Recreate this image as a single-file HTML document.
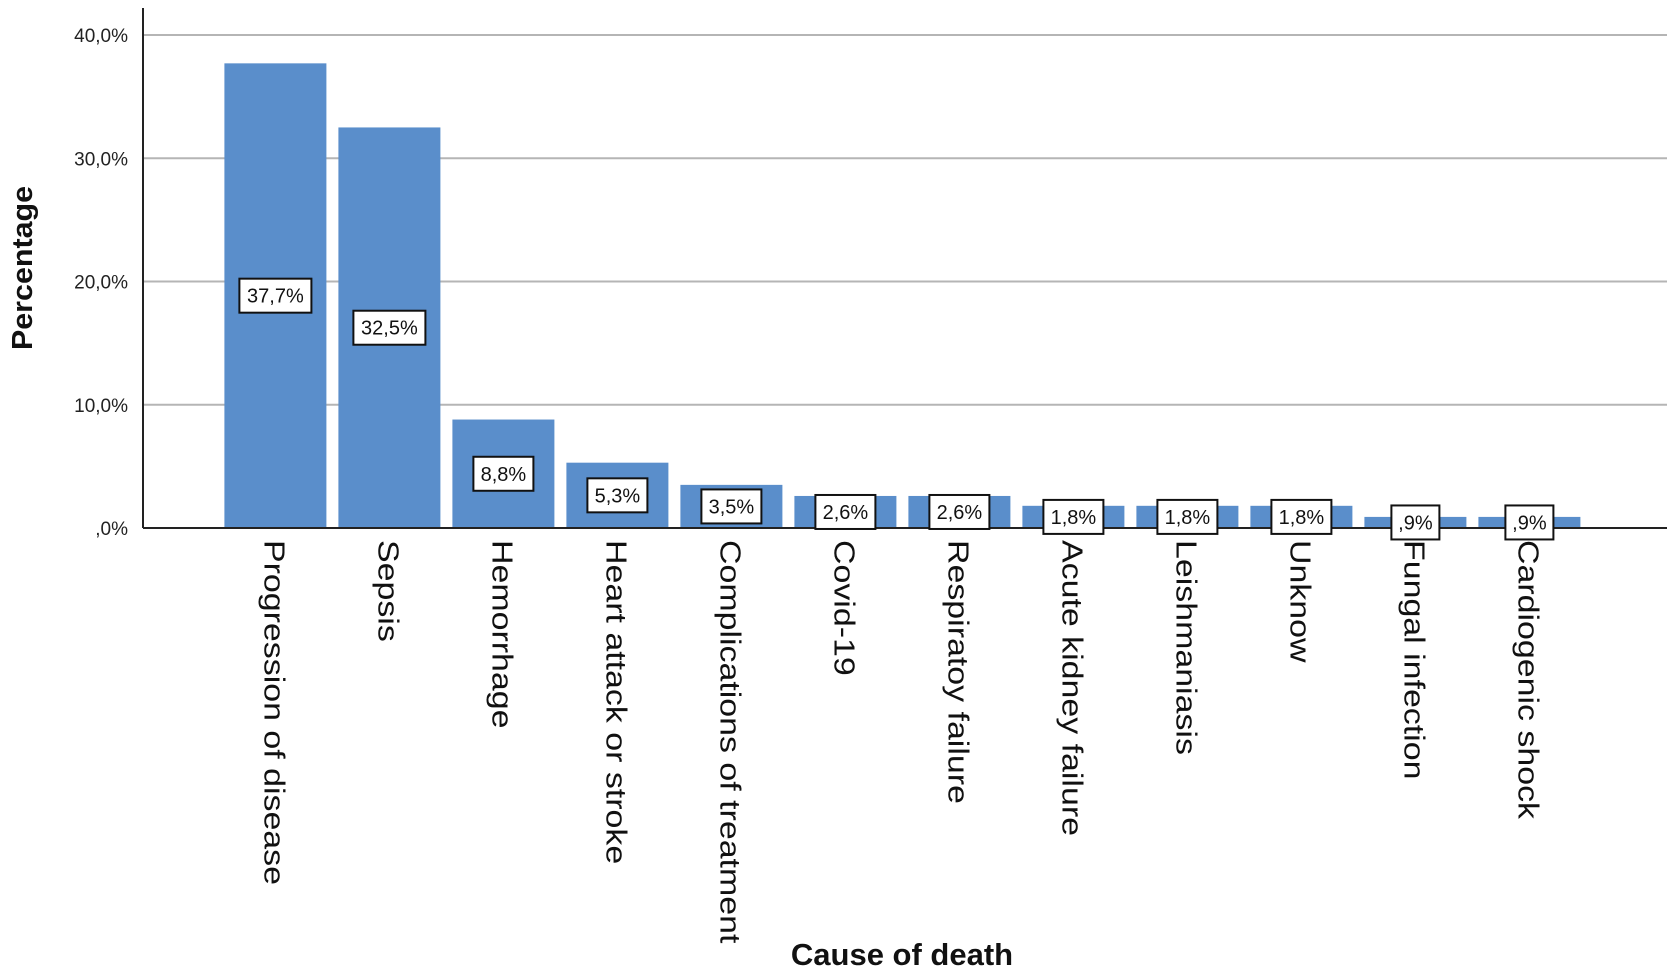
<!DOCTYPE html>
<html><head><meta charset="utf-8"><style>
html,body{margin:0;padding:0;background:#fff;}
svg{display:block;font-family:"Liberation Sans",Arial,sans-serif;}
</style></head><body>
<svg id="chart" width="1667" height="974" viewBox="0 0 1667 974" xmlns="http://www.w3.org/2000/svg"></svg>
<script>
const categories = ["Progression of disease","Sepsis","Hemorrhage","Heart attack or stroke","Complications of treatment","Covid-19","Respiratoy failure","Acute kidney failure","Leishmaniasis","Unknow","Fungal infection","Cardiogenic shock"];
const values = [37.7,32.5,8.8,5.3,3.5,2.6,2.6,1.8,1.8,1.8,0.9,0.9];
const valueLabels = ["37,7%","32,5%","8,8%","5,3%","3,5%","2,6%","2,6%","1,8%","1,8%","1,8%",",9%",",9%"];
const yTicks = [0,10,20,30,40];
const yTickLabels = [",0%","10,0%","20,0%","30,0%","40,0%"];

const NS="http://www.w3.org/2000/svg";
const svg=document.getElementById('chart');
const y0=528, yTop=35, axisX=143, right=1667;
const y=v=>y0-(v/40)*(y0-yTop);
const c0=275.4, step=114, bw=102;
const xc=i=>c0+i*step;
function mk(t,a,p){const e=document.createElementNS(NS,t);for(const k in a)e.setAttribute(k,a[k]);(p||svg).appendChild(e);return e;}

yTicks.forEach((t,i)=>{
  if(t>0){const g=mk('line',{x1:axisX,x2:right,y1:y(t),y2:y(t),stroke:'#b5b5b5','stroke-width':2});
  
  }
  const l=mk('text',{x:128,y:y(t)+7,'text-anchor':'end','font-size':19,fill:'#222'});
  l.textContent=yTickLabels[i];
  
  
});

values.forEach((v,i)=>{
  const r=mk('rect',{x:xc(i)-bw/2,y:y(v),width:bw,height:y0-y(v),fill:'#5a8ecb'});
  
  
});

const ax=mk('line',{x1:axisX,x2:right,y1:y0,y2:y0,stroke:'#222','stroke-width':2});


const ay=mk('line',{x1:axisX,x2:axisX,y1:8,y2:y0,stroke:'#222','stroke-width':2});



values.forEach((v,i)=>{
  const cy=(y(v)+y0)/2;
  const w=valueLabels[i].length*12+12;
  const b=mk('rect',{x:xc(i)-w/2,y:cy-17,width:w,height:34,fill:'#fff',stroke:'#111','stroke-width':2});
  
  
  const t=mk('text',{x:xc(i),y:cy+7,'text-anchor':'middle','font-size':20,fill:'#111'});
  t.textContent=valueLabels[i];
  
  
});

categories.forEach((c,i)=>{
  const t=mk('text',{x:0,y:0,'font-size':29,fill:'#111',transform:`translate(${xc(i)-11},540) rotate(90) scale(1.17,1)`});
  t.textContent=c;
  
  
});

const yt=mk('text',{x:0,y:0,'font-size':29,'font-weight':'bold','text-anchor':'middle',fill:'#111',transform:'translate(32,268) rotate(-90) scale(1.05,1)'});
yt.textContent='Percentage';


const xt=mk('text',{x:902,y:965,'font-size':31,'font-weight':'bold','text-anchor':'middle',fill:'#111'});
xt.textContent='Cause of death';


</script>
</body></html>
